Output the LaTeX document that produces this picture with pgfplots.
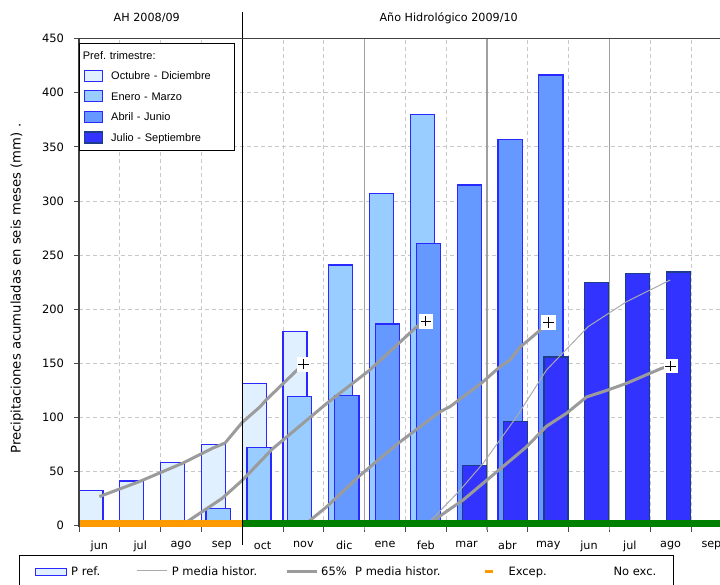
\documentclass[border=0pt]{standalone}
\usepackage{pgfplots}
\pgfplotsset{compat=1.18}
\usepackage{pgfplotstable}
\usepackage{fontspec}
\setmainfont{DejaVu Sans}
\newfontfamily\legfont{Liberation Sans}

\definecolor{cA}{RGB}{224,240,255}
\definecolor{cB}{RGB}{153,204,255}
\definecolor{cC}{RGB}{102,153,255}
\definecolor{cD}{RGB}{51,51,255}
\definecolor{bA}{RGB}{40,40,255}
\definecolor{bD}{RGB}{30,60,140}
\definecolor{lgray}{RGB}{155,155,155}
\definecolor{tgray}{RGB}{170,170,170}
\definecolor{qgray}{RGB}{160,160,160}
\definecolor{gridc}{RGB}{200,200,200}
\definecolor{excep}{RGB}{255,153,0}
\definecolor{noexc}{RGB}{0,128,0}

% Bars: x = month index + offset (month i spans [i,i+1]), y = mm
\pgfplotstableread{
x y
0.295 32.4
1.295 41.4
2.295 58.6
3.295 75.3
4.295 131.6
5.295 179.3
}\barA
\pgfplotstableread{
x y
3.41 15.8
4.41 72.5
5.41 119.4
6.41 240.9
7.41 307.1
8.41 380.1
}\barB
\pgfplotstableread{
x y
6.565 120.5
7.565 186.4
8.565 260.9
9.565 314.8
10.565 357.0
11.565 416.4
}\barC
\pgfplotstableread{
x y
9.69 55.5
10.69 96.5
11.69 155.9
12.69 224.5
13.69 233.2
14.69 234.4
}\barD

\newcommand{\tf}{\fontsize{11.2}{13}\selectfont}

\begin{document}
\begin{tikzpicture}
\begin{axis}[
  scale only axis, width=641pt, height=488.5pt,
  xmin=0, xmax=15.71, ymin=-1.2, ymax=450,
  clip=false,
  axis line style={draw=none},
  tick align=outside, tick pos=left,
  xtick={0,...,15},
  xticklabels={jun,jul,ago,sep,oct,nov,dic,ene,feb,mar,abr,may,jun,jul,ago,sep},
  xticklabel style={xshift=20.4pt, yshift=-6pt, font=\tf},
  ytick={0,50,...,450},
  yticklabel style={xshift=-7pt, font=\fontsize{11.5}{13}\selectfont},
  major tick length=4.5pt,
  every tick/.style={black!70, line width=0.8pt},
  grid=major,
  major grid style={gridc, dash pattern=on 4pt off 3pt, line width=0.8pt},
  /pgf/number format/assume math mode=true,
  ylabel={Precipitaciones acumuladas en seis meses (mm) .},
  ylabel style={at={(axis description cs:-0.0967,0.488)}, anchor=center, font=\fontsize{13.2}{15}\selectfont},
  legend cell align=left,
  legend style={at={(0,1)}, anchor=north west, xshift=0.5pt, yshift=-4.7pt,
    draw=black, line width=0.8pt, fill=white,
    font=\legfont\fontsize{11}{13}\selectfont,
    inner xsep=3.8pt, inner ysep=6.8pt, row sep=8.4pt, column sep=8.3pt,
    nodes={inner sep=0pt, text height=9.3pt, text depth=1.5pt, text width=119pt, align=left}},
]
\coordinate (O) at (rel axis cs:0,0);

% quarter separators
\addplot[qgray, line width=1.5pt, forget plot] coordinates {(7,-3.9) (7,450)};
\addplot[qgray, line width=1.5pt, forget plot] coordinates {(10,-3.9) (10,450)};
\addplot[qgray, line width=1.5pt, forget plot] coordinates {(13,-3.9) (13,450)};

\addlegendimage{empty legend}
\addlegendentry{\hspace*{-28.3pt}Pref.\ trimestre:}

\addplot[ybar, bar width=0.59, bar shift=0pt, fill=cA, draw=bA, line width=1.2pt,
  legend image code/.code={\draw[fill=cA, draw=bA, line width=1.2pt] (0pt,-5.5pt) rectangle (18pt,5.5pt);}]
  table {\barA};
\addlegendentry{Octubre - Diciembre}
\addplot[ybar, bar width=0.59, bar shift=0pt, fill=cB, draw=bA, line width=1.2pt,
  legend image code/.code={\draw[fill=cB, draw=bA, line width=1.2pt] (0pt,-5.5pt) rectangle (18pt,5.5pt);}]
  table {\barB};
\addlegendentry{Enero - Marzo}
\addplot[ybar, bar width=0.59, bar shift=0pt, fill=cC, draw=bA, line width=1.2pt,
  legend image code/.code={\draw[fill=cC, draw=bA, line width=1.2pt] (0pt,-5.5pt) rectangle (18pt,5.5pt);}]
  table {\barC};
\addlegendentry{Abril - Junio}
\addplot[ybar, bar width=0.59, bar shift=0pt, fill=cD, draw=bD, line width=1.2pt,
  legend image code/.code={\draw[fill=cD, draw=bD, line width=1.2pt] (0pt,-5.5pt) rectangle (18pt,5.5pt);}]
  table {\barD};
\addlegendentry{Julio - Septiembre}

% P media histor. (thin)
\addplot[tgray, line width=1pt, forget plot] coordinates {
 (8.5,0) (9.34,33) (9.91,58) (10.73,101) (11.46,144) (12.48,184) (13.42,207) (14.49,227)};
% 65% P media histor. (thick)
\addplot[lgray, line width=3pt, forget plot] coordinates {
 (0.5,27) (1.47,40.7) (2.55,58) (3.27,71.6) (3.58,76.5) (4.0,95.5) (4.44,110) (4.58,116) (5.28,141.5) (5.5,149.4)};
\addplot[lgray, line width=3pt, forget plot] coordinates {
 (2.5,0) (3.51,25.4) (4.0,42) (4.74,71) (5.0,79.2) (5.5,95) (6.07,113) (7.13,144) (8.28,184) (8.5,189)};
\addplot[lgray, line width=3pt, forget plot] coordinates {
 (5.5,0) (6.07,17.6) (6.9,47) (7.85,77) (8.85,105.4) (9.09,110) (9.87,132) (10.32,147) (10.56,153) (10.81,165) (11.28,180) (11.5,188)};
\addplot[lgray, line width=3pt, forget plot] coordinates {
 (8.5,0) (9.42,24) (10.4,55) (10.97,73) (11.46,92) (11.95,104) (12.44,119) (12.93,125) (13.42,131.6) (14.28,145.5) (14.5,147.6)};
\addplot[white, only marks, mark=square*, mark size=6.7pt, mark options={fill=white, draw=white}, forget plot]
 coordinates {(5.5,149.4) (8.5,189) (11.5,188) (14.5,147.6)};
\addplot[black, only marks, mark=+, mark size=5.3pt, mark options={black, line width=0.9pt}, forget plot]
 coordinates {(5.5,149.4) (8.5,189) (11.5,188) (14.5,147.6)};

% exceptional / not exceptional band
\addplot[excep, line width=7.3pt, forget plot] coordinates {(0,2.05) (4,2.05)};
\addplot[noexc, line width=7.3pt, forget plot] coordinates {(4,2.05) (15.71,2.05)};

% hydrological year separator
\addplot[black, line width=1.3pt, forget plot] coordinates {(4,-17.7) (4,474.6)};

% spines
\draw[black!75, line width=1.3pt] (rel axis cs:0,0) -- (rel axis cs:0,1) -- (rel axis cs:1,1);

\node[anchor=base, font=\tf] at (axis cs:1.66,465.8) {AH 2008/09};
\node[anchor=base, font=\tf] at (axis cs:9.06,465.8) {Año Hidrológico 2009/10};
\end{axis}

% bottom legend
\begin{scope}[shift={(O)}, every node/.style={anchor=base west, inner sep=0pt, font=\fontsize{11.5}{13}\selectfont}]
\draw[black, line width=0.8pt, fill=white] (-60pt,-27.9pt) rectangle (594pt,-70pt);
\draw[bA, fill=cA, line width=1.2pt] (-43.3pt,-41.2pt) rectangle (-12.3pt,-48.6pt);
\node at (-8pt,-48.4pt) {P ref.};
\draw[tgray, line width=1pt] (57.7pt,-43.6pt) -- (87.7pt,-43.6pt);
\node at (92.7pt,-48.4pt) {P media histor.};
\draw[lgray, line width=3pt] (207.7pt,-43.9pt) -- (237.7pt,-43.9pt);
\node at (242pt,-48.4pt) {65\%};
\node at (276pt,-48.4pt) {P media histor.};
\draw[excep, line width=3pt] (406pt,-43.9pt) -- (414.3pt,-43.9pt);
\node at (429.3pt,-48.4pt) {Excep.};
\node at (534.3pt,-48.4pt) {No exc.};
\end{scope}

\pgfresetboundingbox
\path[use as bounding box] ([shift={(-79pt,-56.9pt)}]O) rectangle ([shift={(641pt,527.1pt)}]O);
\end{tikzpicture}
\end{document}
